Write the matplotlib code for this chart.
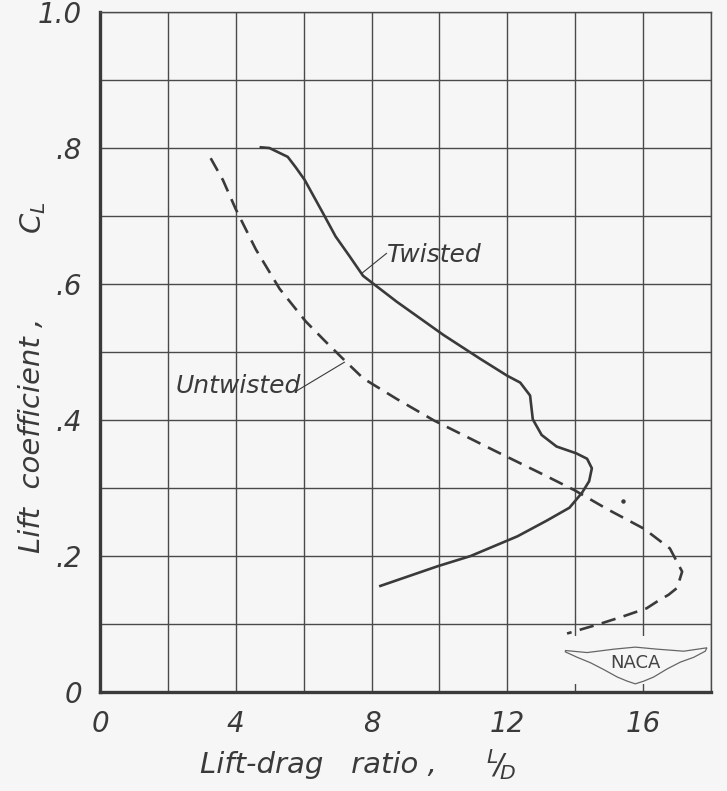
import matplotlib.pyplot as plt
from matplotlib.patches import Rectangle, Polygon

# Twisted wing (solid curve) from top to bottom
twisted_ld = [4.74, 4.99, 5.53, 5.76, 6.03, 6.35, 6.56, 6.94, 7.35, 7.75, 8.74, 10.12,
              11.2, 12.0, 12.38, 12.67, 12.75, 13.01, 13.45, 14.03, 14.35, 14.49,
              14.41, 14.2, 13.83, 13.16, 12.3, 10.92, 9.95, 8.26]
twisted_cl = [0.801, 0.800, 0.787, 0.772, 0.753, 0.724, 0.705, 0.67, 0.641, 0.612, 0.574, 0.525,
              0.49, 0.465, 0.455, 0.436, 0.401, 0.378, 0.361, 0.351, 0.343, 0.329,
              0.31, 0.293, 0.271, 0.252, 0.229, 0.2, 0.185, 0.156]

# Untwisted wing (dashed curve)
untwisted_ld = [3.26, 3.62, 4.0, 4.59, 5.29, 6.06, 6.65, 7.24, 7.76, 8.74, 9.85,
                11.7, 13.09, 13.97, 14.94, 16.03, 16.79, 17.15, 17.0, 16.75, 16.41,
                16.1, 15.4, 14.65, 13.76]
untwisted_cl = [0.785, 0.753, 0.71, 0.651, 0.593, 0.545, 0.515, 0.486, 0.461, 0.431, 0.399,
                0.353, 0.319, 0.297, 0.269, 0.24, 0.211, 0.177, 0.153, 0.143, 0.133,
                0.123, 0.111, 0.099, 0.086]

# stray point on the sheet
stray_ld = [15.42]
stray_cl = [0.281]

x_ticks = [0, 2, 4, 6, 8, 10, 12, 14, 16, 18]
x_tick_labels = ["0", "", "4", "", "8", "", "12", "", "16", ""]
y_ticks = [0, 0.1, 0.2, 0.3, 0.4, 0.5, 0.6, 0.7, 0.8, 0.9, 1.0]
y_tick_labels = ["0", "", ".2", "", ".4", "", ".6", "", ".8", "", "1.0"]

plt.rcParams['font.family'] = ['DejaVu Sans']
plt.rcParams['font.style'] = 'italic'
plt.rcParams['mathtext.fontset'] = 'dejavusans'

ink = '#3a3a3a'
paper = '#f6f6f6'
W, H = 727, 791


def px(x, y):
    # pixel position on the sheet -> figure fraction
    return x / W, 1 - y / H


fig = plt.figure(figsize=(W / 100, H / 100), dpi=100, facecolor=paper)
ax = fig.add_axes([100 / W, 1 - 692 / H, 611 / W, 680 / H])
ax.set_facecolor(paper)
ax.set_xlim(0, 18)
ax.set_ylim(0, 1)

ax.set_xticks(x_ticks)
ax.set_xticklabels(x_tick_labels)
ax.set_yticks(y_ticks)
ax.set_yticklabels(y_tick_labels)
ax.tick_params(length=0, pad=13, labelsize=20, colors=ink)

ax.grid(True, color='#4a4a4a', linewidth=1.0)
ax.set_axisbelow(True)
for s in ['left', 'bottom']:
    ax.spines[s].set_linewidth(2.4)
    ax.spines[s].set_color(ink)
for s in ['top', 'right']:
    ax.spines[s].set_linewidth(1.0)
    ax.spines[s].set_color('#4a4a4a')

ax.plot(twisted_ld, twisted_cl, color=ink, linewidth=1.9, solid_joinstyle='round', zorder=3)
ax.plot(untwisted_ld, untwisted_cl, color=ink, linewidth=1.9, dashes=(5.5, 3.2), zorder=3)
ax.plot(stray_ld, stray_cl, 'o', color=ink, markersize=2.2, zorder=3)

# curve labels with leader lines
ax.text(8.44, 0.632, 'Twisted', fontsize=18, color=ink, ha='left', va='baseline')
ax.plot([8.44, 7.72], [0.645, 0.616], color=ink, linewidth=0.8)
ax.text(2.24, 0.44, 'Untwisted', fontsize=18, color=ink, ha='left', va='baseline')
ax.plot([5.8, 7.2], [0.443, 0.485], color=ink, linewidth=0.8)

# NACA emblem in the lower right corner
ax.add_patch(Rectangle((13.55, 0.012), 4.4, 0.071, facecolor=paper, edgecolor='none', zorder=2))
wing = [(13.71, 0.061), (14.35, 0.058), (15.14, 0.063), (15.77, 0.066), (16.41, 0.063),
        (17.2, 0.060), (17.88, 0.065), (17.83, 0.060), (17.49, 0.051), (17.1, 0.044),
        (16.71, 0.034), (16.31, 0.022), (16.02, 0.016), (15.77, 0.012), (15.53, 0.016),
        (15.24, 0.022), (14.84, 0.033), (14.45, 0.043), (14.06, 0.051), (13.71, 0.059)]
ax.add_patch(Polygon(wing, closed=True, facecolor=paper, edgecolor='#666666', linewidth=0.9, zorder=3))
ax.text(15.77, 0.043, 'NACA', fontsize=13, fontstyle='normal', color='#444444',
        ha='center', va='center', zorder=4)

# axis titles
fig.text(*px(200, 773), 'Lift-drag   ratio ,', fontsize=21, color=ink, ha='left', va='baseline')
fig.text(*px(486, 775), r'$^{L}\!/\!_{D}$', fontsize=21, color=ink, ha='left', va='baseline')

fig.text(*px(40, 553), 'Lift  coefficient ,', fontsize=21, color=ink, rotation=90,
         rotation_mode='anchor', ha='left', va='baseline')
fig.text(*px(41, 234), r'$C_L$', fontsize=21, color=ink, rotation=90,
         rotation_mode='anchor', ha='left', va='baseline')

plt.savefig("out.png", dpi=100, facecolor=paper)
